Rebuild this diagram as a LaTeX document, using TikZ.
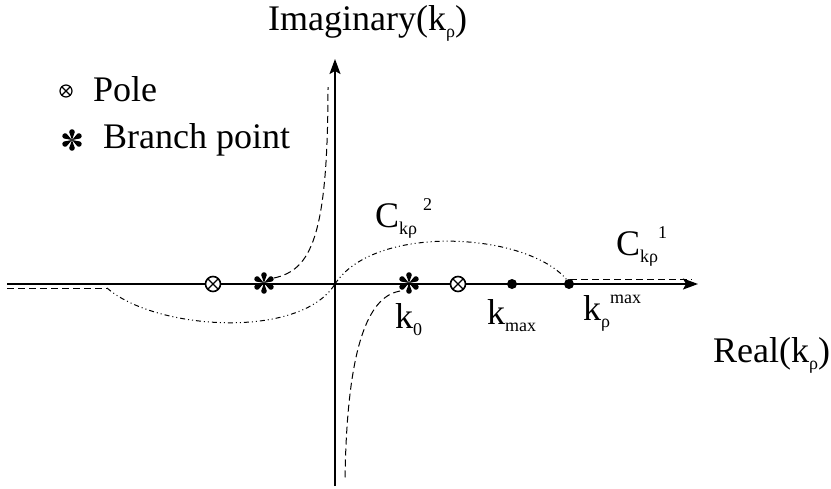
\documentclass[tikz,border=0pt]{standalone}
\usepackage{fontspec}
\setmainfont{Liberation Serif}
\usetikzlibrary{arrows.meta}

\newcommand{\subtxt}[1]{\raisebox{-0.22em}{\fontsize{18}{18}\selectfont #1}}
\newcommand{\suptxt}[1]{\raisebox{0.45em}{\fontsize{18}{18}\selectfont #1}}

\tikzset{
  axis/.style={line width=1.8pt, -{Stealth[length=15pt,width=11pt,inset=3pt]}},
  pole/.style={circle, draw, fill=white, line width=1.6pt, inner sep=0pt, minimum size=15pt,
    path picture={\draw[line width=1.4pt]
      (path picture bounding box.north west) -- (path picture bounding box.south east)
      (path picture bounding box.north east) -- (path picture bounding box.south west);}},
  smallpole/.style={pole, line width=1.2pt, minimum size=12pt},
  dot/.style={circle, fill, inner sep=0pt, minimum size=10pt},
  lbl/.style={anchor=base west, inner sep=0pt, font=\fontsize{36}{40}\selectfont},
  cut/.style={dash pattern=on 7pt off 4pt, line width=1pt},
  path2/.style={dash pattern=on 5pt off 3pt on 1pt off 3pt on 1pt off 3pt, line width=1pt},
  brpt/.pic={
    \foreach \a in {30,90,...,330}
      \fill[rotate=\a] (0,0) -- (8pt,-2.8pt) arc[start angle=-90, end angle=90, radius=2.8pt] -- cycle;
  }
}

\begin{document}
\begin{tikzpicture}[x=1pt, y=-1pt]
    \useasboundingbox (0,0) rectangle (831,488);

    % 1. axes
    \coordinate (O) at (335,284);
    \coordinate (xl) at (7,284);
    \coordinate (xr) at (698,284);
    \coordinate (yb) at (335,486);
    \coordinate (yt) at (335,59);
    \draw[axis] (xl) -- (xr);
    \draw[axis] (yb) -- (yt);

    % 2. integration path (dashed on the left and right, dash-dot near the axis)
    \coordinate (a0) at (7,288);
    \coordinate (a1) at (107,288);
    \coordinate (b0) at (570,279);
    \coordinate (b1) at (692,279);
    \draw[cut] (a0) -- (a1);
    \draw[path2] (a1) .. controls (155,330) and (300,340) .. (O);
    \draw[path2] (O) .. controls (375,222) and (535,232) .. (570,284);
    \draw[cut] (b0) -- (b1);

    % 3. branch cuts
    \draw[cut] (274,278) .. controls (310,270) and (328,240) .. (328,87);
    \draw[cut] (400,291) .. controls (372,296) and (347,335) .. (345,480);

    % 4. poles, branch points, points on the real axis
    \node[pole] (p1) at (213,284) {};
    \node[pole] (p2) at (458,284) {};
    \pic at (264,283) {brpt};
    \pic at (409,283) {brpt};
    \node[dot] (kmax) at (512,284) {};
    \node[dot] (krmax) at (569,284) {};

    % 5. legend
    \node[smallpole] (lp) at (66,91) {};
    \pic at (72,140) {brpt};
    \node[lbl] (tpole) at (93,101) {Pole};
    \node[lbl] (tbr) at (103,148) {Branch point};

    % 6. labels
    \node[lbl] (timag) at (268,30) {Imaginary(k\subtxt{ρ})};
    \node[lbl] (treal) at (713,362) {Real(k\subtxt{ρ})};
    \node[lbl] (tc2) at (375,227) {C\subtxt{kρ}\,\suptxt{2}};
    \node[lbl] (tc1) at (616,255) {C\subtxt{kρ}\suptxt{1}};
    \node[lbl] (tk0) at (395,328) {k\subtxt{0}};
    \node[lbl] (tkmax) at (487,324) {k\subtxt{max}};
    \node[lbl] (tkrmax) at (583,320) {k\subtxt{ρ}\suptxt{max}};
\end{tikzpicture}
\end{document}
